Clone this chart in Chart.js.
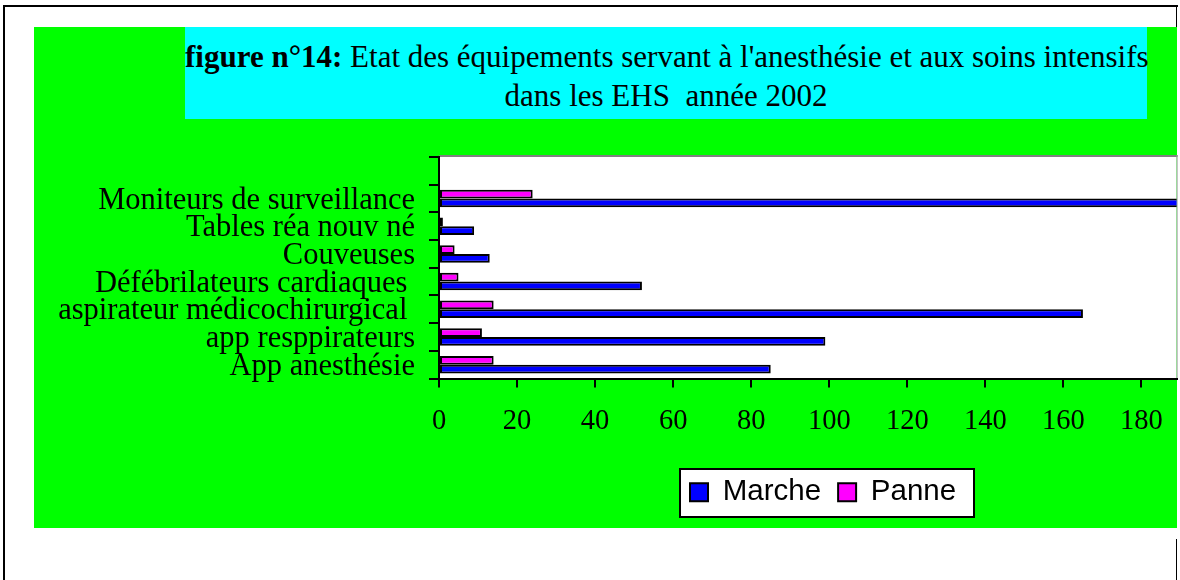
<!DOCTYPE html>
<html>
<head>
<meta charset="utf-8">
<script src="https://cdn.jsdelivr.net/npm/chart.js@4/dist/chart.umd.min.js"></script>
<style>
  html, body { margin: 0; padding: 0; background: #ffffff; }
  #wrap { position: relative; width: 1180px; height: 580px; overflow: hidden; background: #ffffff; }
  .ln { position: absolute; background: #000000; }
  #green { position: absolute; left: 34px; top: 27px; width: 1143px; height: 501px; background: #00ff00; }
  #title { position: absolute; left: 185px; top: 27px; width: 962px; height: 92px; background: #00ffff;
           box-sizing: border-box; padding-top: 10px; text-align: center; white-space: pre;
           font-family: 'Liberation Serif', 'Times New Roman', serif; font-size: 31px; line-height: 39px; color: #000; }
  #c { position: absolute; left: 0; top: 0; }
</style>
</head>
<body>
<div id="wrap">
  <div class="ln" style="left:3px;top:5px;width:2px;height:575px;"></div>
  <div class="ln" style="left:3px;top:5px;width:1175px;height:2px;"></div>
  <div class="ln" style="left:1176px;top:5px;width:1px;height:22px;"></div>
  <div class="ln" style="left:1176px;top:539px;width:1px;height:41px;"></div>
  <div id="green"></div>
  <div id="title"><b>figure n°14:</b> Etat des équipements servant à l'anesthésie et aux soins intensifs
dans les EHS  année 2002</div>
  <canvas id="c" width="1180" height="580"></canvas>
</div>
<script>
// ---- data ----
const categories = ['', 'Moniteurs de surveillance', 'Tables réa nouv né', 'Couveuses',
  'Défébrilateurs cardiaques ', 'aspirateur médicochirurgical ', 'app resppirateurs', 'App anesthésie'];
const marche = [null, 200, 9, 13, 52, 165, 99, 85];
const panne = [null, 24, 1, 4, 5, 14, 11, 14];
const xTickValues = [0, 20, 40, 60, 80, 100, 120, 140, 160, 180];
const seriesNames = ['Marche', 'Panne'];

const serif = "'Liberation Serif', 'Times New Roman', serif";
const sans = "'Liberation Sans', Arial, sans-serif";

const decorPlugin = {
  id: 'decor',
  afterLayout(chart) {
    const lg = chart.legend;
    if (!lg) return;
    const w = lg.width, h = lg.height;
    lg.left = 673; lg.right = lg.left + w;
    lg.top = 460.5; lg.bottom = lg.top + h;
  },
  beforeDraw(chart) {
    const ctx = chart.ctx;
    const a = chart.chartArea;
    ctx.save();
    ctx.fillStyle = '#ffffff';
    ctx.fillRect(a.left, a.top, a.right - a.left, a.bottom - a.top);
    ctx.fillStyle = '#808080';
    ctx.fillRect(a.left, a.top - 2, a.right - a.left + 1, 2);
    ctx.fillStyle = '#a0a0a0';
    ctx.fillRect(a.right, a.top - 2, 1, a.bottom - a.top + 2);
    // legend frame
    const lg = chart.legend;
    if (lg && lg.legendHitBoxes && lg.legendHitBoxes.length) {
      const hb = lg.legendHitBoxes;
      let l = Infinity, r = -Infinity, t = Infinity, b = -Infinity;
      hb.forEach(h => { l = Math.min(l, h.left); r = Math.max(r, h.left + h.width);
                        t = Math.min(t, h.top); b = Math.max(b, h.top + h.height); });
      const x0 = Math.round(l - 10), x1 = Math.round(r + 18), y0 = Math.round(t - 9), y1 = Math.round(b + 10);
      ctx.fillStyle = '#ffffff';
      ctx.fillRect(x0, y0, x1 - x0, y1 - y0);
      ctx.strokeStyle = '#000000';
      ctx.lineWidth = 2;
      ctx.strokeRect(x0, y0, x1 - x0, y1 - y0);
    }
    ctx.restore();
  }
};

new Chart(document.getElementById('c'), {
  type: 'bar',
  data: {
    labels: categories,
    datasets: [
      { label: seriesNames[1], data: panne, backgroundColor: '#ff00ff', borderColor: '#000000', borderWidth: 2, borderSkipped: false },
      { label: seriesNames[0], data: marche, backgroundColor: '#0000ff', borderColor: '#000000', borderWidth: 2, borderSkipped: false }
    ]
  },
  options: {
    indexAxis: 'y',
    responsive: false,
    animation: false,
    devicePixelRatio: 1,
    categoryPercentage: 0.63,
    barPercentage: 1.0,
    layout: { padding: { top: 157, left: 0, right: 3, bottom: 85 } },
    plugins: {
      title: { display: false },
      tooltip: { enabled: false },
      legend: {
        display: true,
        position: 'bottom',
        align: 'start',
        reverse: true,
        labels: {
          color: '#000000',
          font: { family: sans, size: 29.5 },
          boxWidth: 18,
          boxHeight: 18,
          padding: 17
        }
      }
    },
    scales: {
      x: {
        type: 'linear',
        min: 0,
        max: 189,
        afterBuildTicks: (scale) => { scale.ticks = xTickValues.map(v => ({ value: v })); },
        afterFit: (scale) => { scale.height = 60; },
        ticks: { color: '#000000', font: { family: serif, size: 28.5 }, padding: 17, maxRotation: 0, autoSkip: false },
        grid: { display: true, drawOnChartArea: false, drawTicks: true, tickLength: 9, color: '#000000', lineWidth: 2 },
        border: { display: true, color: '#000000', width: 2 }
      },
      y: {
        type: 'category',
        offset: true,
        afterFit: (scale) => { scale.width = 439; },
        ticks: { color: '#000000', font: { family: serif, size: 30.5 }, padding: 14, labelOffset: 2, autoSkip: false },
        grid: { display: true, offset: true, drawOnChartArea: false, drawTicks: true, tickLength: 10, color: '#000000', lineWidth: 2 },
        border: { display: true, color: '#000000', width: 2 }
      }
    }
  },
  plugins: [decorPlugin]
});
</script>
</body>
</html>
